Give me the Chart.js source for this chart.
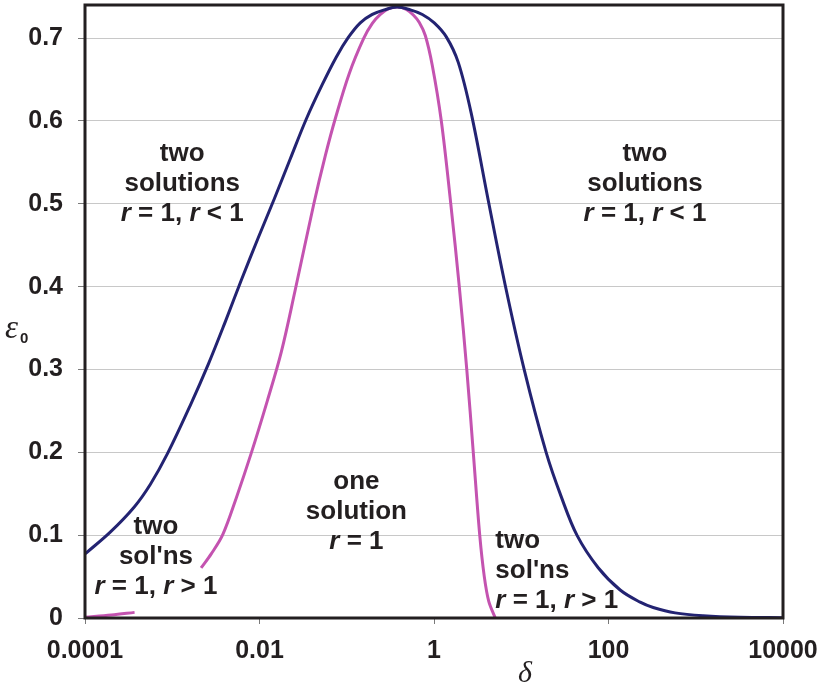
<!DOCTYPE html>
<html>
<head>
<meta charset="utf-8">
<title>Solution regions</title>
<script src="https://cdn.jsdelivr.net/npm/chart.js@4.4.1/dist/chart.umd.min.js"></script>
<style>
  html, body { margin: 0; padding: 0; background: #fff; }
  #wrap { width: 822px; height: 686px; }
</style>
</head>
<body>
<div id="wrap"><canvas id="regionChart" width="822" height="686"></canvas></div>
<script>
// Boundary between r = 1 / r < 1 solutions (outer curve)
const outerDelta = [0.0001, 0.000196, 0.000369, 0.000562, 0.000881, 0.00161, 0.0026, 0.00407, 0.00621, 0.0097,
                    0.01483, 0.0226, 0.0344, 0.0525, 0.076, 0.1042, 0.1429, 0.1963, 0.2692, 0.378,
                    0.536, 0.735, 1.007, 1.384, 1.897, 2.673, 4.188, 6.561, 10.81, 19.32,
                    28.71, 43.75, 76.21, 136.1, 230.7, 325.1, 580.8, 1213, 3221, 10000];
const outerEps   = [0.0773, 0.104, 0.1344, 0.1615, 0.1984, 0.2568, 0.3068, 0.3581, 0.4083, 0.4593,
                    0.5064, 0.5547, 0.6024, 0.6441, 0.6773, 0.7008, 0.7185, 0.7286, 0.7341, 0.7375,
                    0.7341, 0.7286, 0.7184, 0.7015, 0.6707, 0.6091, 0.504, 0.4014, 0.2999, 0.1996,
                    0.1465, 0.0994, 0.0607, 0.0338, 0.0191, 0.0127, 0.0062, 0.0028, 0.0009, 0.0004];

// Boundary of the r > 1 region (inner curve)
const innerDelta = [0.00214, 0.00281, 0.00379, 0.00543, 0.00801, 0.01222, 0.01782, 0.02559, 0.04178, 0.05689,
                    0.07396, 0.1069, 0.1563, 0.1963, 0.2427, 0.2992, 0.378,
                    0.4818, 0.5793, 0.6787, 0.795, 0.9561, 1.212, 1.557, 1.949, 2.376, 2.819,
                    3.347, 3.77, 4.244, 5.037];
const innerEps   = [0.0604, 0.0777, 0.1006, 0.1453, 0.1984, 0.2612, 0.3216, 0.3953, 0.4992, 0.5584,
                    0.603, 0.6574, 0.6997, 0.7178, 0.7287, 0.7353, 0.7375,
                    0.7347, 0.728, 0.719, 0.7032, 0.667, 0.6002, 0.5, 0.4, 0.2999, 0.2,
                    0.0994, 0.05, 0.02, 0];

// Short piece of the inner curve at very small delta
const tailDelta = [0.0001, 0.0002, 0.00037];
const tailEps   = [0.001, 0.0035, 0.0068];

const xTicks      = [0.0001, 0.01, 1, 100, 10000];
const xTickLabels = ['0.0001', '0.01', '1', '100', '10000'];
const yTicks      = [0, 0.1, 0.2, 0.3, 0.4, 0.5, 0.6, 0.7];
const yTickLabels = ['0', '0.1', '0.2', '0.3', '0.4', '0.5', '0.6', '0.7'];

// Region labels: anchor in data units, *...* marks italic runs
const regionLabels = [
  { x: 0.0013,  y: 0.560, align: 'center', lines: ['two', 'solutions', '*r* = 1, *r* < 1'] },
  { x: 262,     y: 0.560, align: 'center', lines: ['two', 'solutions', '*r* = 1, *r* < 1'] },
  { x: 0.129,   y: 0.164, align: 'center', lines: ['one', 'solution', '*r* = 1'] },
  { x: 0.00065, y: 0.110, align: 'center', lines: ['two', "sol'ns", '*r* = 1, *r* > 1'] },
  { x: 5.05,    y: 0.093, align: 'left',   lines: ['two', "sol'ns", '*r* = 1, *r* > 1'] },
];

const INK   = '#231f20';
const NAVY  = '#232372';
const PINK  = '#c453b0';
const SANS  = '"Liberation Sans", Arial, sans-serif';
const SERIF = '"Liberation Serif", "Times New Roman", serif';

const toPoints = (xs, ys) => xs.map((x, i) => ({ x, y: ys[i] }));

const lineSet = (label, xs, ys, color) => ({
  label,
  data: toPoints(xs, ys),
  borderColor: color,
  borderWidth: 3,
  pointRadius: 0,
  tension: 0.35,
  fill: false,
});

// keep the plot box exactly where the layout padding puts it
const noScalePadding = s => {
  s.paddingLeft = 0; s.paddingRight = 0; s.paddingTop = 0; s.paddingBottom = 0;
};

/* ── Text helpers ─────────────────────────────────── */

function drawRuns(ctx, text, x, y, align, size) {
  const runs = text.split('*').map((t, i) => ({ t, italic: i % 2 === 1 })).filter(r => r.t);
  const fontFor = r => (r.italic ? 'italic ' : '') + 'bold ' + size + 'px ' + SANS;
  let total = 0;
  runs.forEach(r => { ctx.font = fontFor(r); total += ctx.measureText(r.t).width; });
  let cx = align === 'center' ? x - total / 2 : x;
  ctx.textAlign = 'left';
  runs.forEach(r => {
    ctx.font = fontFor(r);
    ctx.fillText(r.t, cx, y);
    cx += ctx.measureText(r.t).width;
  });
}

const decorPlugin = {
  id: 'decor',
  afterDatasetsDraw(chart) {
    const { ctx, chartArea: a, scales } = chart;
    ctx.save();

    // plot frame
    ctx.strokeStyle = INK;
    ctx.lineWidth = 3;
    ctx.strokeRect(a.left, a.top, a.right - a.left, a.bottom - a.top);

    // region labels
    ctx.fillStyle = INK;
    ctx.textBaseline = 'middle';
    regionLabels.forEach(lab => {
      const px = scales.x.getPixelForValue(lab.x);
      const py = scales.y.getPixelForValue(lab.y);
      lab.lines.forEach((ln, i) => drawRuns(ctx, ln, px, py + i * 30, lab.align, 26));
    });

    // axis titles
    ctx.textBaseline = 'alphabetic';
    ctx.textAlign = 'left';
    ctx.font = 'italic 33px ' + SERIF;
    ctx.fillText('ε', 5, 338);
    ctx.font = 'bold 15px ' + SANS;
    ctx.fillText('0', 20, 343);

    ctx.textAlign = 'center';
    ctx.font = 'italic 30px ' + SERIF;
    ctx.fillText('δ', 525, 682);

    ctx.restore();
  },
};

new Chart(document.getElementById('regionChart'), {
  type: 'line',
  data: {
    datasets: [
      lineSet('outer', outerDelta, outerEps, NAVY),
      lineSet('inner', innerDelta, innerEps, PINK),
      lineSet('inner tail', tailDelta, tailEps, PINK),
    ],
  },
  options: {
    responsive: false,
    animation: false,
    layout: { padding: { top: 5, right: 39, bottom: 0, left: 0 } },
    plugins: {
      legend: { display: false },
      tooltip: { enabled: false },
    },
    scales: {
      x: {
        type: 'logarithmic',
        min: 0.0001,
        max: 10000,
        afterBuildTicks: s => { s.ticks = xTicks.map(v => ({ value: v })); },
        afterFit: s => { s.height = 68; noScalePadding(s); },
        border: { display: false },
        grid: { drawOnChartArea: false, tickLength: 6, tickColor: '#7a7a7a', lineWidth: 1 },
        ticks: {
          autoSkip: false,
          maxRotation: 0,
          padding: 12,
          color: INK,
          font: { family: SANS, size: 25, weight: 'bold' },
          callback: (v, i) => xTickLabels[i],
        },
      },
      y: {
        min: 0,
        max: 0.74,
        afterBuildTicks: s => { s.ticks = yTicks.map(v => ({ value: v })); },
        afterFit: s => { s.width = 85; noScalePadding(s); },
        border: { display: false },
        grid: { color: '#c8c8c8', lineWidth: 1, tickLength: 7, tickColor: '#7a7a7a' },
        ticks: {
          padding: 15,
          color: INK,
          font: { family: SANS, size: 25, weight: 'bold' },
          callback: (v, i) => yTickLabels[i],
        },
      },
    },
  },
  plugins: [decorPlugin],
});
</script>
</body>
</html>
